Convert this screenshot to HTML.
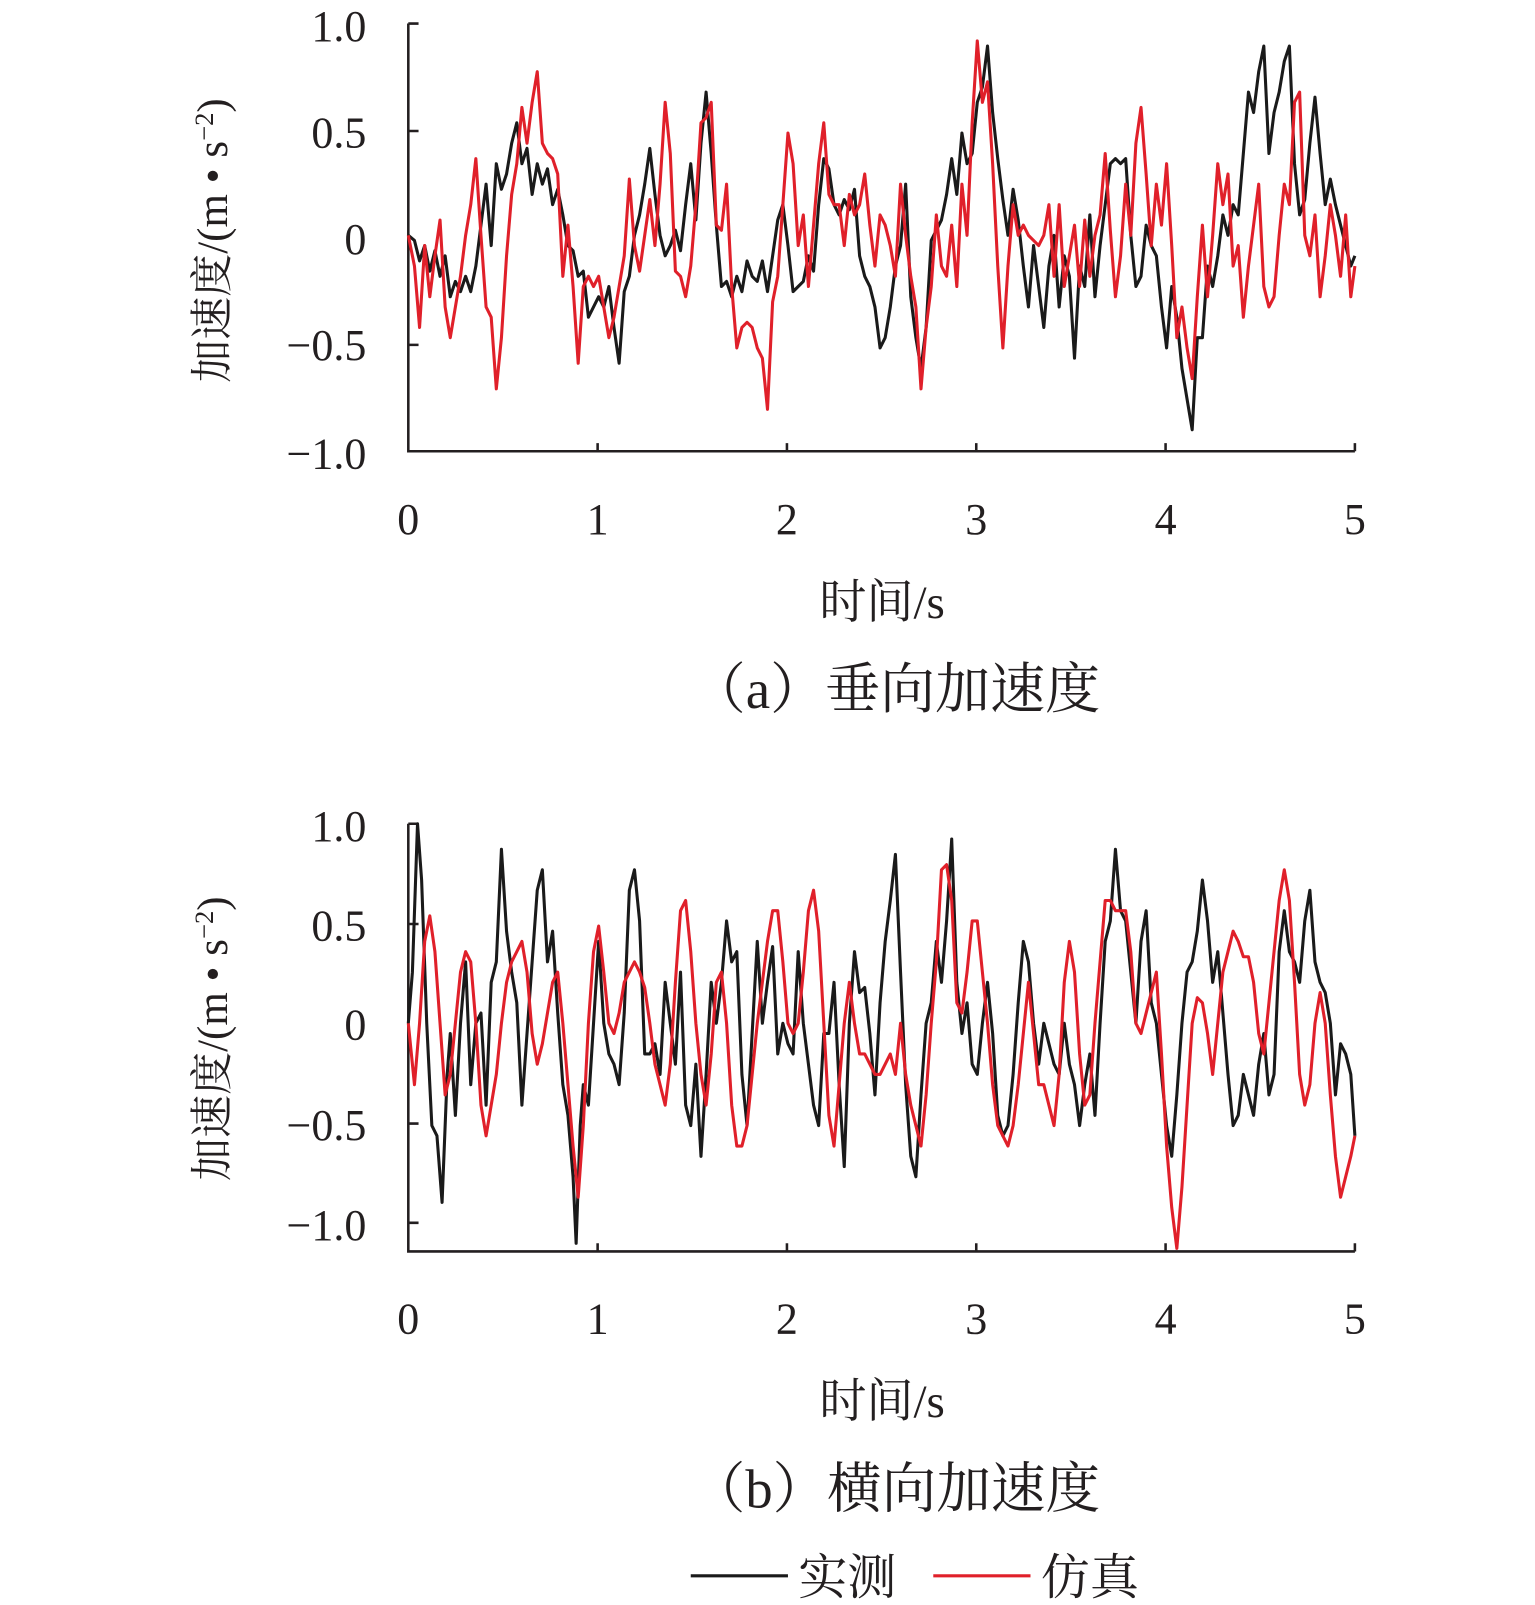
<!DOCTYPE html>
<html><head><meta charset="utf-8"><style>
html,body{margin:0;padding:0;background:#fff}
svg{display:block}
text{font-family:"Liberation Serif","Noto Serif CJK SC",serif;fill:#231f20}
</style></head><body>
<svg width="1535" height="1605" viewBox="0 0 1500 1568.5" preserveAspectRatio="none" xmlns="http://www.w3.org/2000/svg">
<g stroke="#231f20" stroke-width="2.5" fill="none">
<path d="M399,23 V441 H1324"/>
<path d="M399,23 H409 M399,128 H409 M399,337 H409 M584,441 V433 M769,441 V433 M954,441 V433 M1139,441 V433 M1324,441 V433"/>
<path d="M399,805 V1223 H1324"/>
<path d="M399,805 H409 M399,903 H409 M399,1098 H409 M399,1195 H409 M584,1223 V1215 M769,1223 V1215 M954,1223 V1215 M1139,1223 V1215 M1324,1223 V1215"/>
</g>
<g font-size="43" text-anchor="end">
<text x="358" y="40">1.0</text><text x="358" y="144">0.5</text><text x="358" y="248">0</text><text x="358" y="352">−0.5</text><text x="358" y="458">−1.0</text>
<text x="358" y="822">1.0</text><text x="358" y="919">0.5</text><text x="358" y="1016">0</text><text x="358" y="1114">−0.5</text><text x="358" y="1212">−1.0</text>
</g>
<g font-size="43" text-anchor="middle">
<text x="399" y="522">0</text><text x="584" y="522">1</text><text x="769" y="522">2</text><text x="954" y="522">3</text><text x="1139" y="522">4</text><text x="1324" y="522">5</text>
<text x="399" y="1303">0</text><text x="584" y="1303">1</text><text x="769" y="1303">2</text><text x="954" y="1303">3</text><text x="1139" y="1303">4</text><text x="1324" y="1303">5</text>
<text x="862" y="604" font-size="46">时间/s</text>
<text x="862" y="1385" font-size="46">时间/s</text>
</g>
<text x="675" y="692" font-size="54" textLength="400" lengthAdjust="spacingAndGlyphs">（a）垂向加速度</text>
<text x="675" y="1473" font-size="54" textLength="400" lengthAdjust="spacingAndGlyphs">（b）横向加速度</text>
<text transform="translate(222,235) rotate(-90)" font-size="42" text-anchor="middle">加速度/(m • s<tspan font-size="26" dy="-14">−2</tspan><tspan dy="14">)</tspan></text>
<text transform="translate(222,1015) rotate(-90)" font-size="42" text-anchor="middle">加速度/(m • s<tspan font-size="26" dy="-14">−2</tspan><tspan dy="14">)</tspan></text>
<g stroke-width="3" fill="none" stroke-linejoin="round">
<polyline stroke="#1a1a1a" points="399,230 405,235 410,255 415,240 420,265 425,245 430,270 435,250 440,290 445,275 450,285 455,270 460,285 465,260 470,220 475,180 480,240 485,160 490,185 495,170 500,140 505,120 510,160 515,145 520,190 525,160 530,180 535,165 540,200 545,185 550,210 555,240 560,245 565,270 570,265 575,310 580,300 585,290 590,300 595,280 600,320 605,355 610,285 615,270 620,230 625,210 630,180 635,145 640,190 645,230 650,250 655,240 660,225 665,245 670,200 675,160 680,215 685,140 690,90 695,150 700,220 705,280 710,275 715,290 720,270 725,285 730,255 735,270 740,275 745,255 750,285 755,250 760,215 765,200 770,240 775,285 780,280 785,275 790,250 795,265 800,200 805,155 810,165 815,200 820,210 825,195 830,205 835,185 840,250 845,270 850,280 855,300 860,340 865,330 870,300 875,260 880,240 885,180 890,290 895,330 900,360 905,320 910,235 915,225 920,215 925,190 930,155 935,190 940,130 945,160 950,150 955,100 960,85 965,45 970,110 975,155 980,195 985,230 990,185 995,215 1000,260 1005,300 1010,240 1015,280 1020,320 1025,260 1030,230 1035,300 1040,250 1045,270 1050,350 1055,260 1060,280 1065,210 1070,290 1075,240 1080,200 1085,160 1090,155 1095,160 1100,155 1105,230 1110,280 1115,270 1120,220 1125,240 1130,250 1135,300 1140,340 1145,280 1150,310 1155,360 1160,390 1165,420 1170,330 1175,330 1180,260 1185,280 1190,250 1195,210 1200,230 1205,200 1210,210 1215,150 1220,90 1225,110 1230,70 1235,45 1240,150 1245,110 1250,90 1255,60 1260,45 1265,160 1270,210 1275,195 1280,140 1285,95 1290,150 1295,200 1300,175 1305,200 1310,220 1315,240 1320,260 1324,250"/>
<polyline stroke="#e0202a" points="399,230 405,260 410,320 415,240 420,290 425,250 430,215 435,300 440,330 445,300 450,270 455,230 460,200 465,155 470,230 475,300 480,310 485,380 490,330 495,250 500,190 505,160 510,105 515,140 520,100 525,70 530,140 535,150 540,155 545,170 550,270 555,220 560,280 565,355 570,280 575,270 580,280 585,270 590,300 595,330 600,310 605,280 610,250 615,175 620,240 625,265 630,230 635,195 640,240 645,180 650,100 655,150 660,265 665,270 670,290 675,260 680,200 685,120 690,115 695,100 700,220 705,225 710,180 715,280 720,340 725,320 730,315 735,320 740,340 745,350 750,400 755,295 760,270 765,200 770,130 775,160 780,240 785,210 790,280 795,220 800,160 805,120 810,190 815,200 820,200 825,240 830,190 835,210 840,200 845,170 850,220 855,260 860,210 865,220 870,240 875,270 880,180 885,230 890,270 895,300 900,380 905,320 910,280 915,210 920,260 925,270 930,220 935,280 940,180 945,230 950,120 955,40 960,100 965,80 970,160 975,260 980,340 985,260 990,200 995,230 1000,220 1005,230 1010,235 1015,240 1020,230 1025,200 1030,270 1035,200 1040,280 1045,250 1050,220 1055,280 1060,215 1065,270 1070,230 1075,210 1080,150 1085,225 1090,290 1095,250 1100,180 1105,230 1110,140 1115,105 1120,170 1125,240 1130,180 1135,220 1140,160 1145,240 1150,330 1155,300 1160,340 1165,370 1170,290 1175,220 1180,290 1185,230 1190,160 1195,200 1200,170 1205,260 1210,240 1215,310 1220,260 1225,220 1230,180 1235,280 1240,300 1245,290 1250,230 1255,180 1260,200 1265,100 1270,90 1275,230 1280,250 1285,210 1290,290 1295,250 1300,200 1305,230 1310,270 1315,210 1320,290 1324,260"/>
<polyline stroke="#1a1a1a" points="399,1000 403,950 408,805 412,860 417,1000 422,1100 427,1110 432,1175 437,1050 440,1010 445,1090 450,1000 455,940 460,1060 465,1000 470,990 475,1080 480,960 485,940 490,830 495,910 500,950 505,980 510,1080 515,1010 520,940 525,870 530,850 535,940 540,910 545,990 550,1060 555,1090 560,1150 563,1215 567,1100 570,1060 575,1080 580,1000 585,920 590,1000 595,1030 600,1040 605,1060 610,990 615,870 620,850 625,900 630,1030 635,1030 640,1020 645,1050 650,960 655,1000 660,1040 665,950 670,1080 675,1100 680,1040 685,1130 690,1050 695,960 700,1000 705,960 710,900 715,940 720,930 725,1050 730,1100 735,1010 740,920 745,1000 750,960 755,925 760,1030 765,1000 770,1020 775,1030 780,930 785,1000 790,1040 795,1080 800,1100 805,1010 810,1010 815,960 820,1060 825,1140 830,1000 835,930 840,970 845,965 850,1010 855,1070 860,980 865,920 870,880 875,835 880,950 885,1060 890,1130 895,1150 900,1070 905,1000 910,980 915,920 920,960 925,900 930,820 935,960 940,1010 945,980 950,1040 955,1050 960,1000 965,960 970,1010 975,1090 980,1110 985,1100 990,1050 995,980 1000,920 1005,940 1010,1000 1015,1040 1020,1000 1025,1020 1030,1040 1035,1050 1040,1000 1045,1040 1050,1060 1055,1100 1060,1060 1065,1030 1070,1090 1075,1000 1080,920 1085,900 1090,830 1095,890 1100,900 1105,950 1110,1000 1115,920 1120,890 1125,980 1130,1000 1135,1050 1140,1100 1145,1130 1150,1070 1155,1000 1160,950 1165,940 1170,910 1175,860 1180,900 1185,960 1190,930 1195,990 1200,1050 1205,1100 1210,1090 1215,1050 1220,1070 1225,1090 1230,1040 1235,1010 1240,1070 1245,1050 1250,930 1255,890 1260,930 1265,940 1270,960 1275,900 1280,870 1285,940 1290,960 1295,970 1300,1000 1305,1070 1310,1020 1315,1030 1320,1050 1324,1110"/>
<polyline stroke="#e0202a" points="399,1000 405,1060 410,1000 415,920 420,895 425,930 430,1000 435,1070 440,1050 445,1000 450,950 455,930 460,940 465,1000 470,1080 475,1110 480,1080 485,1050 490,1000 495,960 500,940 505,930 510,920 515,950 520,1010 525,1040 530,1020 535,990 540,960 545,950 550,1000 555,1060 560,1120 565,1170 570,1100 575,1000 580,930 585,905 590,950 595,1000 600,1010 605,990 610,960 615,950 620,940 625,950 630,965 635,1000 640,1040 645,1060 650,1080 655,1040 660,960 665,890 670,880 675,930 680,1000 685,1050 690,1080 695,1030 700,960 705,950 710,1000 715,1080 720,1120 725,1120 730,1100 735,1050 740,1000 745,960 750,920 755,890 760,890 765,940 770,1000 775,1010 780,1000 785,950 790,890 795,870 800,910 805,1000 810,1090 815,1120 820,1060 825,1000 830,960 835,1000 840,1030 845,1030 850,1040 855,1050 860,1050 865,1040 870,1030 875,1050 880,1000 885,1050 890,1080 895,1100 900,1120 905,1070 910,1000 915,940 920,850 925,845 930,880 935,980 940,990 945,950 950,900 955,900 960,950 965,1000 970,1060 975,1100 980,1110 985,1120 990,1100 995,1060 1000,1010 1005,960 1010,1010 1015,1060 1020,1060 1025,1080 1030,1100 1035,1050 1040,960 1045,920 1050,950 1055,1030 1060,1080 1065,1070 1070,1000 1075,940 1080,880 1085,880 1090,890 1095,890 1100,890 1105,930 1110,1000 1115,1010 1120,990 1125,970 1130,950 1135,1030 1140,1120 1145,1180 1150,1220 1155,1160 1160,1080 1165,1000 1170,975 1175,980 1180,1010 1185,1050 1190,1000 1195,950 1200,930 1205,910 1210,920 1215,935 1220,935 1225,960 1230,1010 1235,1030 1240,980 1245,930 1250,880 1255,850 1260,880 1265,960 1270,1050 1275,1080 1280,1060 1285,1000 1290,970 1295,1000 1300,1070 1305,1130 1310,1170 1315,1150 1320,1130 1324,1110"/>
</g>
<line x1="675" y1="1540" x2="770" y2="1540" stroke="#1a1a1a" stroke-width="3"/>
<text x="780" y="1558" font-size="48">实测</text>
<line x1="912" y1="1540" x2="1007" y2="1540" stroke="#e0202a" stroke-width="3"/>
<text x="1017" y="1558" font-size="48">仿真</text>
</svg>
</body></html>
